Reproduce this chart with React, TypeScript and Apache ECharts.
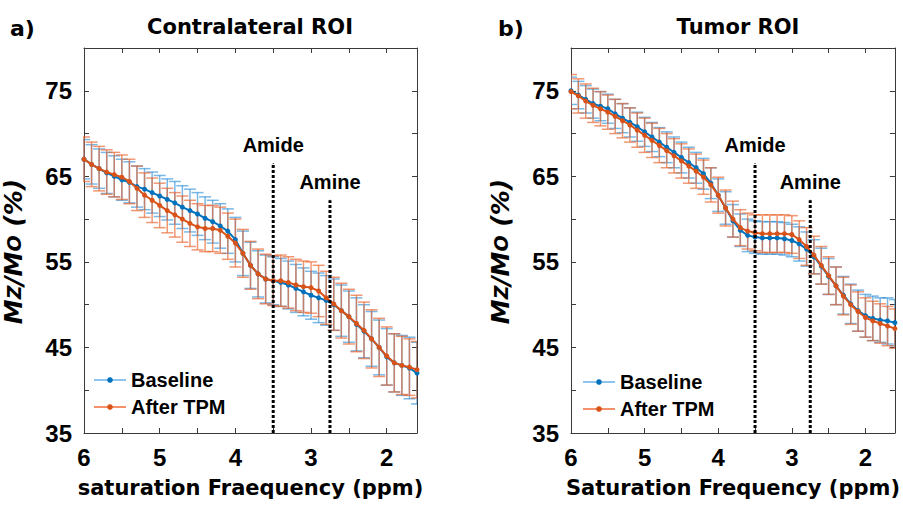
import React, { useEffect, useRef } from "react";
import * as echarts from "echarts";

const ppm = [6.0, 5.9, 5.8, 5.7, 5.6, 5.5, 5.4, 5.3, 5.2, 5.1, 5.0, 4.9, 4.8, 4.7, 4.6, 4.5, 4.4, 4.3, 4.2, 4.1, 4.0, 3.9, 3.8, 3.7, 3.6, 3.5, 3.4, 3.3, 3.2, 3.1, 3.0, 2.9, 2.8, 2.7, 2.6, 2.5, 2.4, 2.3, 2.2, 2.1, 2.0, 1.9, 1.8, 1.7, 1.6];

const contraBaseline = [67.0, 66.4, 65.9, 65.4, 65.0, 64.6, 64.3, 63.8, 63.5, 63.1, 62.7, 62.3, 61.9, 61.4, 61.0, 60.6, 60.1, 59.7, 59.2, 58.6, 57.6, 56.0, 54.6, 53.6, 53.0, 52.8, 52.6, 52.3, 51.9, 51.5, 51.1, 50.8, 50.5, 50.0, 49.3, 48.6, 47.7, 46.9, 46.0, 45.0, 43.9, 43.2, 42.9, 42.6, 42.0];
const contraBaselineErr = [2.3, 2.3, 2.3, 2.4, 2.4, 2.4, 2.4, 2.4, 2.4, 2.4, 2.4, 2.4, 2.5, 2.5, 2.5, 2.5, 2.5, 2.5, 2.6, 2.6, 2.6, 2.6, 2.7, 2.7, 2.8, 2.8, 2.8, 2.8, 2.8, 2.8, 2.8, 2.9, 2.9, 3.0, 3.0, 3.0, 3.1, 3.1, 3.2, 3.2, 3.3, 3.4, 3.5, 3.6, 3.6];
const contraTPM = [67.0, 66.4, 65.9, 65.5, 65.2, 64.9, 64.4, 63.6, 62.8, 62.2, 61.6, 61.0, 60.5, 60.0, 59.5, 59.1, 58.9, 58.9, 58.7, 58.0, 57.2, 56.0, 54.6, 53.6, 53.0, 52.8, 52.8, 52.6, 52.3, 52.1, 52.0, 51.6, 50.8, 50.1, 49.3, 48.6, 47.8, 47.0, 46.0, 45.0, 44.0, 43.2, 42.9, 42.7, 42.4];
const contraTPMErr = [2.6, 2.6, 2.6, 2.6, 2.6, 2.6, 2.6, 2.6, 2.6, 2.6, 2.6, 2.6, 2.6, 2.7, 2.7, 2.7, 2.7, 2.7, 2.7, 2.7, 2.8, 2.8, 2.8, 2.9, 2.9, 2.9, 3.0, 3.0, 3.0, 3.0, 3.0, 3.0, 3.1, 3.1, 3.2, 3.2, 3.3, 3.3, 3.4, 3.4, 3.4, 3.4, 3.4, 3.3, 3.3];

const tumorBaseline = [75.0, 74.5, 74.0, 73.5, 73.2, 72.9, 72.3, 71.8, 71.3, 70.8, 70.2, 69.6, 69.0, 68.4, 67.8, 67.2, 66.6, 66.0, 65.3, 64.2, 62.8, 61.3, 59.8, 58.7, 58.1, 57.9, 57.8, 57.8, 57.8, 57.7, 57.5, 57.1, 56.5, 55.6, 54.5, 53.3, 52.2, 51.1, 50.1, 49.3, 48.7, 48.4, 48.2, 48.1, 47.9];
const tumorBaselineErr = [1.6, 1.6, 1.6, 1.7, 1.7, 1.7, 1.7, 1.7, 1.7, 1.7, 1.7, 1.7, 1.7, 1.8, 1.8, 1.8, 1.8, 1.8, 1.8, 1.8, 1.9, 1.9, 1.9, 1.9, 1.9, 1.9, 1.9, 1.9, 1.9, 1.9, 1.9, 2.0, 2.0, 2.0, 2.1, 2.1, 2.2, 2.2, 2.3, 2.4, 2.5, 2.6, 2.6, 2.7, 2.7];
const tumorTPM = [74.9, 74.4, 73.8, 73.3, 72.9, 72.5, 72.0, 71.5, 71.0, 70.4, 69.8, 69.2, 68.6, 68.0, 67.4, 66.8, 66.2, 65.6, 64.9, 64.0, 62.8, 61.3, 60.0, 59.0, 58.6, 58.4, 58.3, 58.3, 58.3, 58.3, 58.2, 57.6, 56.8, 55.8, 54.6, 53.4, 52.2, 51.0, 50.0, 49.2, 48.5, 48.1, 47.8, 47.5, 47.2];
const tumorTPMErr = [2.0, 2.0, 2.0, 2.0, 2.0, 2.0, 2.0, 2.0, 2.0, 2.0, 2.0, 2.0, 2.0, 2.0, 2.0, 2.0, 2.0, 2.0, 2.0, 2.0, 2.1, 2.1, 2.1, 2.1, 2.1, 2.1, 2.2, 2.2, 2.2, 2.2, 2.2, 2.2, 2.2, 2.2, 2.2, 2.2, 2.2, 2.2, 2.3, 2.3, 2.3, 2.3, 2.3, 2.3, 2.3];

const xTickLabels = [6, 5, 4, 3, 2];
const xTicks = [2, 2.5, 3, 3.5, 4, 4.5, 5, 5.5, 6];
const yTickLabels = [35, 45, 55, 65, 75];
const peakNames = ["Amide", "Amine"];
const peakPpm = [3.5, 2.75];
const peakTop = [66.5, 62.2];

const panelTitles = ["Contralateral ROI", "Tumor ROI"];
const panelLetters = ["a)", "b)"];
const xNames = ["saturation Fraequency (ppm)", "Saturation Frequency (ppm)"];
const seriesNames = ["Baseline", "After TPM"];

const BLUE = "#0072BD";
const ORANGE = "#D95319";
const BLUE_ERR = "rgba(40,140,215,0.62)";
const ORANGE_ERR = "rgba(232,98,44,0.66)";
const AXIS = "#3a3a3a";
const TXT = "#000000";
const BOLD_SANS = "'Liberation Sans', Arial, sans-serif";
const WIDE_SANS = "'DejaVu Sans', Verdana, sans-serif";

const grids = [
  { left: 81, top: 48, width: 336, height: 385 },
  { left: 571, top: 48, width: 331, height: 385 },
];

function errorSeries(gi: number, vals: number[], errs: number[], color: string, z: number) {
  return {
    type: "custom",
    name: "err" + gi + color,
    xAxisIndex: gi * 2,
    yAxisIndex: gi * 2,
    clip: true,
    z,
    silent: true,
    data: ppm.map((x, i) => [x, vals[i] - errs[i], vals[i] + errs[i]]),
    encode: { x: 0, y: [1, 2] },
    renderItem: (params: any, api: any) => {
      const x = api.value(0);
      const lo = api.coord([x, api.value(1)]);
      const hi = api.coord([x, api.value(2)]);
      const hw = 6;
      const st = { stroke: color, lineWidth: 1.5 };
      return {
        type: "group",
        children: [
          { type: "line", shape: { x1: hi[0], y1: hi[1], x2: lo[0], y2: lo[1] }, style: st },
          { type: "line", shape: { x1: hi[0] - hw, y1: hi[1], x2: hi[0] + hw, y2: hi[1] }, style: st },
          { type: "line", shape: { x1: lo[0] - hw, y1: lo[1], x2: lo[0] + hw, y2: lo[1] }, style: st },
        ],
      };
    },
  };
}

function lineSeries(gi: number, name: string, vals: number[], color: string, z: number) {
  return {
    type: "line",
    name,
    xAxisIndex: gi * 2,
    yAxisIndex: gi * 2,
    z,
    data: ppm.map((x, i) => [x, vals[i]]),
    symbol: "circle",
    symbolSize: 5,
    showSymbol: true,
    itemStyle: { color },
    lineStyle: { color, width: 2 },
  };
}

function peakSeries(gi: number) {
  const out: any[] = [];
  peakNames.forEach((nm, k) => {
    out.push({
      type: "line",
      name: "peak" + gi + k,
      xAxisIndex: gi * 2,
      yAxisIndex: gi * 2,
      z: 6,
      silent: true,
      symbol: "none",
      data: [
        [peakPpm[k], 35],
        [peakPpm[k], peakTop[k]],
      ],
      lineStyle: { color: TXT, width: 3, type: [3, 2] },
    });
    out.push({
      type: "scatter",
      name: "peakLabel" + gi + k,
      xAxisIndex: gi * 2,
      yAxisIndex: gi * 2,
      z: 7,
      silent: true,
      symbolSize: 1,
      itemStyle: { color: TXT, opacity: 1 },
      data: [[peakPpm[k], peakTop[k]]],
      label: {
        show: true,
        position: "top",
        distance: 8,
        formatter: nm,
        color: TXT,
        opacity: 1,
        fontFamily: BOLD_SANS,
        fontWeight: "bold",
        fontSize: 20,
      },
    });
  });
  return out;
}

function xAxes(gi: number) {
  const common = {
    gridIndex: gi,
    type: "value",
    min: 1.6,
    max: 6,
    inverse: true,
    splitLine: { show: false },
    axisLine: { show: true, onZero: false, lineStyle: { color: AXIS, width: 1 } },
    axisTick: { show: true, inside: true, length: 5, lineStyle: { color: AXIS }, customValues: xTicks },
  };
  return [
    {
      ...common,
      position: "bottom",
      axisLabel: {
        show: true,
        customValues: xTickLabels,
        color: TXT,
        fontFamily: BOLD_SANS,
        fontWeight: "bold",
        fontSize: 24,
        margin: 12,
      },
      name: xNames[gi],
      nameLocation: "middle",
      nameGap: 44,
      nameTextStyle: { color: TXT, fontFamily: WIDE_SANS, fontWeight: "bold", fontSize: 21 },
    },
    { ...common, position: "top", axisLabel: { show: false } },
  ];
}

function yAxes(gi: number) {
  const common = {
    gridIndex: gi,
    type: "value",
    min: 35,
    max: 80,
    interval: 5,
    splitLine: { show: false },
    axisLine: { show: true, onZero: false, lineStyle: { color: AXIS, width: 1 } },
    axisTick: { show: true, inside: true, length: 5, lineStyle: { color: AXIS } },
  };
  return [
    {
      ...common,
      position: "left",
      axisLabel: {
        show: true,
        color: TXT,
        fontFamily: BOLD_SANS,
        fontWeight: "bold",
        fontSize: 24,
        margin: 12,
        formatter: (v: number) => (yTickLabels.indexOf(v) >= 0 ? String(v) : ""),
      },
      name: "{a|M}{b|Z}{a|/M}{b|O}{a| (%)}",
      nameLocation: "middle",
      nameRotate: 90,
      nameGap: 58,
      nameTextStyle: {
        padding: [0, 22, 0, 0],
        rich: {
          a: { fontFamily: WIDE_SANS, fontWeight: "bold", fontStyle: "italic", fontSize: 25, color: TXT },
          b: { fontFamily: WIDE_SANS, fontWeight: "bold", fontStyle: "italic", fontSize: 19, color: TXT },
        },
      },
    },
    { ...common, position: "right", axisLabel: { show: false } },
  ];
}

function legendFor(left: number, top: number) {
  return {
    orient: "vertical",
    left,
    top,
    padding: 0,
    itemWidth: 32,
    itemHeight: 7,
    itemGap: 7,
    selectedMode: false,
    textStyle: { color: TXT, fontFamily: BOLD_SANS, fontWeight: "bold", fontSize: 20 },
    data: [
      { name: seriesNames[0], lineStyle: { color: "#8ec5ee", width: 2 }, itemStyle: { color: BLUE } },
      { name: seriesNames[1], lineStyle: { color: "#f2916a", width: 2 }, itemStyle: { color: ORANGE } },
    ],
  };
}

export default function App() {
  const ref = useRef<HTMLDivElement>(null);
  useEffect(() => {
    if (!ref.current) return;
    const chart = echarts.init(ref.current, undefined, { renderer: "svg" });
    const panels = [
      [contraBaseline, contraBaselineErr, contraTPM, contraTPMErr],
      [tumorBaseline, tumorBaselineErr, tumorTPM, tumorTPMErr],
    ];
    const series: any[] = [];
    panels.forEach((p, gi) => {
      series.push(errorSeries(gi, p[0], p[1], BLUE_ERR, 1));
      series.push(errorSeries(gi, p[2], p[3], ORANGE_ERR, 2));
      series.push(lineSeries(gi, seriesNames[0], p[0], BLUE, 3));
      series.push(lineSeries(gi, seriesNames[1], p[2], ORANGE, 4));
      series.push(...peakSeries(gi));
    });
    const option: any = {
      animation: false,
      backgroundColor: "#ffffff",
      grid: grids,
      xAxis: [...xAxes(0), ...xAxes(1)],
      yAxis: [...yAxes(0), ...yAxes(1)],
      legend: [legendFor(93, 370), legendFor(582, 372)],
      graphic: [
        { type: "text", left: 10, top: 17, style: { text: panelLetters[0], fill: TXT, font: `bold 22px ${WIDE_SANS}` } },
        { type: "text", left: 498, top: 17, style: { text: panelLetters[1], fill: TXT, font: `bold 22px ${WIDE_SANS}` } },
        { type: "text", x: 250, y: 27, style: { text: panelTitles[0], fill: TXT, font: `bold 21px ${WIDE_SANS}`, align: "center", verticalAlign: "middle" } },
        { type: "text", x: 738, y: 27, style: { text: panelTitles[1], fill: TXT, font: `bold 21px ${WIDE_SANS}`, align: "center", verticalAlign: "middle" } },
      ],
      series,
    };
    chart.setOption(option);
    return () => chart.dispose();
  }, []);
  return <div ref={ref} style={{ position: "absolute", left: 0, top: 0, width: 903, height: 506 }} />;
}
